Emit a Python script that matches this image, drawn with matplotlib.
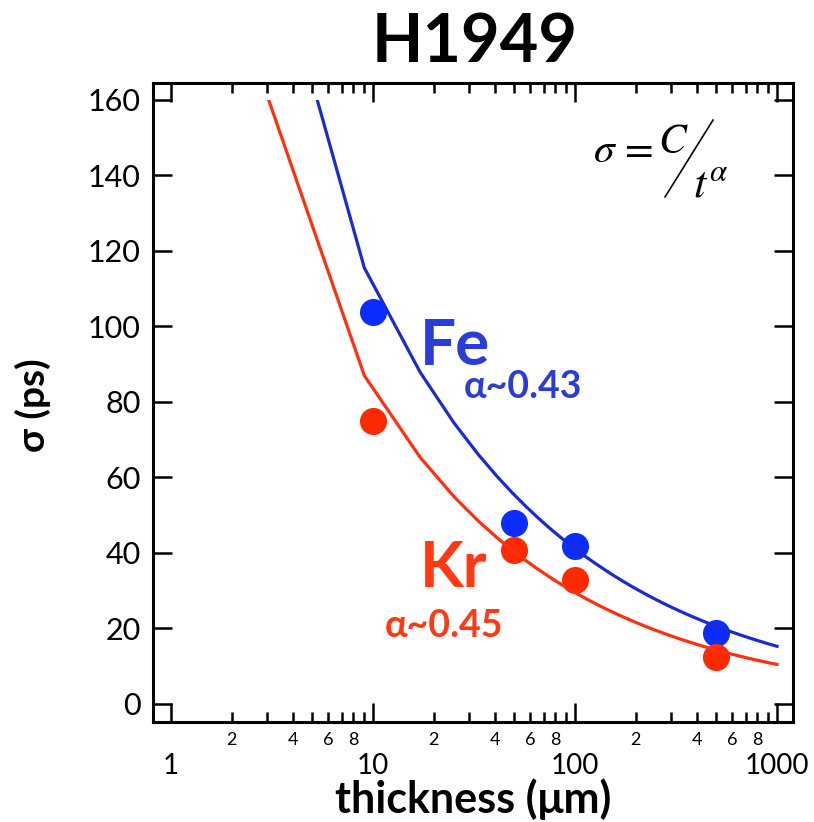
import numpy as np
import matplotlib
matplotlib.use("Agg")
import matplotlib.pyplot as plt
from matplotlib.patches import Rectangle
from matplotlib.ticker import FixedLocator, FuncFormatter

plt.rcParams['font.family'] = ['Lato', 'DejaVu Sans']
plt.rcParams['mathtext.fontset'] = 'stix'

# measured points (thickness in um, sigma in ps)
thickness = [10, 50, 100, 500]
sigma_fe = [103.8, 47.9, 41.9, 18.8]
sigma_kr = [75.0, 40.8, 32.8, 12.4]

# fit sigma = C / t^alpha, parameters as drawn
C_fe, alpha_fe = 298.0, 0.43
C_kr, alpha_kr = 234.5, 0.45
t_fit = np.linspace(1, 1000, 125)
sigma_cut = 160

fe_line = '#1a2bd2'
kr_line = '#ff3010'
fe_dot = '#0c2dff'
kr_dot = '#ff2a00'
fe_txt = '#2b3dd8'
kr_txt = '#ff3a12'

fig = plt.figure(figsize=(8.14, 8.22), dpi=100)
ax = fig.add_axes([153/814, 100/822, 640/814, 639/822])

ax.plot(thickness, sigma_fe, 'o', color=fe_dot, ms=19.5, mew=0, zorder=2)
ax.plot(thickness, sigma_kr, 'o', color=kr_dot, ms=19.5, mew=0, zorder=2)

clip = Rectangle((0.1, -100), 1e4, 100 + sigma_cut, transform=ax.transData)
l1, = ax.plot(t_fit, C_fe / t_fit**alpha_fe, color=fe_line, lw=2.3, zorder=3)
l2, = ax.plot(t_fit, C_kr / t_fit**alpha_kr, color=kr_line, lw=2.3, zorder=3)
l1.set_clip_path(clip)
l2.set_clip_path(clip)

ax.set_xscale('log')
ax.set_xlim(0.814, 1200)
ax.set_ylim(-4.77, 164.5)
ax.set_yticks(np.arange(0, 161, 20))


def minor_label(v, pos):
    m = int(round(v / 10**np.floor(np.log10(v) + 1e-9)))
    return str(m) if m in (2, 4, 6, 8) else ''


ax.xaxis.set_major_locator(FixedLocator([1, 10, 100, 1000]))
ax.xaxis.set_major_formatter(FuncFormatter(lambda v, p: f'{v:g}'))
minors = [m * d for d in (1, 10, 100) for m in range(2, 10)]
ax.xaxis.set_minor_locator(FixedLocator(minors))
ax.xaxis.set_minor_formatter(FuncFormatter(minor_label))

for s in ax.spines.values():
    s.set_linewidth(2.2)
ax.tick_params(which='both', direction='in', top=True, right=True, width=1.8)
ax.tick_params(axis='x', which='major', length=13.5, labelsize=20, pad=22)
ax.tick_params(axis='x', which='minor', length=7.5, labelsize=13, pad=7)
ax.tick_params(axis='y', which='major', length=14, labelsize=22, pad=9)
ax.tick_params(axis='y', which='minor', length=0)

ax.set_xlabel('thickness (μm)', fontsize=31, fontweight='bold', labelpad=0)
fig.text(33/814, 1 - 405/822, 'σ (ps)', rotation=90, ha='center', va='center',
         fontsize=28, fontweight='bold')
fig.text(475/814, 1 - 62/822, 'H1949', ha='center', va='baseline',
         fontsize=48, fontweight='bold')

# labels for the two ions
ax.text(0.417, 0.559, 'Fe', transform=ax.transAxes, color=fe_txt,
        fontsize=46, fontweight='bold', va='baseline')
ax.text(0.486, 0.507, 'α~0.43', transform=ax.transAxes, color=fe_txt,
        fontsize=27, fontweight='bold', va='baseline')
ax.text(0.417, 0.211, 'Kr', transform=ax.transAxes, color=kr_txt,
        fontsize=46, fontweight='bold', va='baseline')
ax.text(0.3625, 0.133, 'α~0.45', transform=ax.transAxes, color=kr_txt,
        fontsize=27, fontweight='bold', va='baseline')

# formula in the corner
ax.text(0.687, 0.895, r'$\sigma\,=$', transform=ax.transAxes, fontsize=30,
        va='center', ha='left')
ax.text(0.8125, 0.909, r'$C$', transform=ax.transAxes, fontsize=30,
        va='center', ha='center')
ax.text(0.844, 0.8216, r'$t^{\alpha}$', transform=ax.transAxes, fontsize=32,
        va='baseline', ha='left')
ax.plot([0.8, 0.875], [0.8216, 0.942], color='black', lw=1.2,
        transform=ax.transAxes, clip_on=False)

fig.savefig('out.png', dpi=100)
